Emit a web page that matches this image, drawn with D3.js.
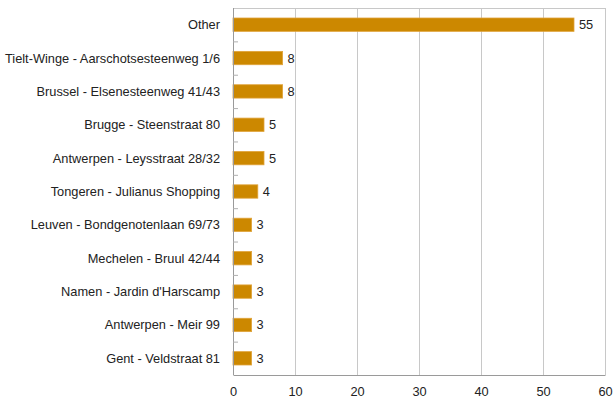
<!DOCTYPE html>
<html>
<head>
<meta charset="utf-8">
<script src="https://cdn.jsdelivr.net/npm/d3@7"></script>
<style>
  html, body { margin: 0; padding: 0; background: #fff; }
  svg text { font-family: "Liberation Sans", Arial, sans-serif; fill: #222; }
</style>
</head>
<body>
<svg id="chart" width="613" height="405"></svg>
<script>
// Store counts per location
const locations = [
  "Other",
  "Tielt-Winge - Aarschotsesteenweg 1/6",
  "Brussel - Elsenesteenweg 41/43",
  "Brugge - Steenstraat 80",
  "Antwerpen - Leysstraat 28/32",
  "Tongeren - Julianus Shopping",
  "Leuven - Bondgenotenlaan 69/73",
  "Mechelen - Bruul 42/44",
  "Namen - Jardin d'Harscamp",
  "Antwerpen - Meir 99",
  "Gent - Veldstraat 81"
];
const counts = [55, 8, 8, 5, 5, 4, 3, 3, 3, 3, 3];
const xTicks = [0, 10, 20, 30, 40, 50, 60];

const svg = d3.select("#chart");
const plotLeft = 233, plotRight = 605, plotTop = 8, plotBottom = 375;
const fontSize = 12.8;

const x = d3.scaleLinear().domain([0, 60]).range([plotLeft, plotRight]);
const y = d3.scaleBand().domain(locations).range([plotTop, plotBottom]).paddingInner(0.6).paddingOuter(0.3);
const band = d3.scaleBand().domain(locations).range([plotTop, plotBottom]);

// vertical gridlines
svg.append("g").selectAll("line").data(xTicks.filter(d => d > 0)).join("line")
  .attr("x1", d => x(d) + 0.5).attr("x2", d => x(d) + 0.5)
  .attr("y1", plotTop).attr("y2", plotBottom)
  .attr("stroke", "#c8c8c8").attr("stroke-width", 1);

// top frame line
svg.append("line").attr("x1", plotLeft).attr("x2", plotRight).attr("y1", plotTop + 0.5).attr("y2", plotTop + 0.5)
  .attr("stroke", "#c8c8c8");

// bars
svg.append("g").selectAll("rect").data(counts).join("rect")
  .attr("x", x(0))
  .attr("y", (d, i) => y(locations[i]))
  .attr("width", d => x(d) - x(0))
  .attr("height", y.bandwidth())
  .attr("fill", "#cc8800")
  .attr("stroke", "#e0a33a").attr("stroke-width", 0.8);

// value labels
svg.append("g").selectAll("text").data(counts).join("text")
  .attr("x", d => x(d) + 5)
  .attr("y", (d, i) => y(locations[i]) + y.bandwidth() / 2)
  .attr("dy", "0.35em")
  .attr("font-size", fontSize)
  .text(d => d);

// category axis
const yAxis = svg.append("g").attr("transform", `translate(${plotLeft},0)`);
yAxis.append("line").attr("x1", 0.5).attr("x2", 0.5).attr("y1", plotTop).attr("y2", plotBottom)
  .attr("stroke", "#9a9a9a");
yAxis.selectAll("line.tick").data(locations.slice(1)).join("line").attr("class", "tick")
  .attr("x1", 0).attr("x2", 5)
  .attr("y1", d => band(d) + 0.5).attr("y2", d => band(d) + 0.5)
  .attr("stroke", "#b0b0b0");
yAxis.selectAll("text").data(locations).join("text")
  .attr("x", -13)
  .attr("y", d => y(d) + y.bandwidth() / 2)
  .attr("dy", "0.35em")
  .attr("text-anchor", "end")
  .attr("font-size", fontSize)
  .text(d => d);

// value axis
const xAxis = svg.append("g").attr("transform", `translate(0,${plotBottom})`)
  .call(d3.axisBottom(x).tickValues(xTicks).tickSize(0).tickPadding(12));
xAxis.select(".domain").attr("stroke", "#9a9a9a");
xAxis.selectAll("text").attr("font-size", fontSize).attr("fill", "#222")
  .attr("font-family", "Liberation Sans, Arial, sans-serif");
</script>
</body>
</html>
